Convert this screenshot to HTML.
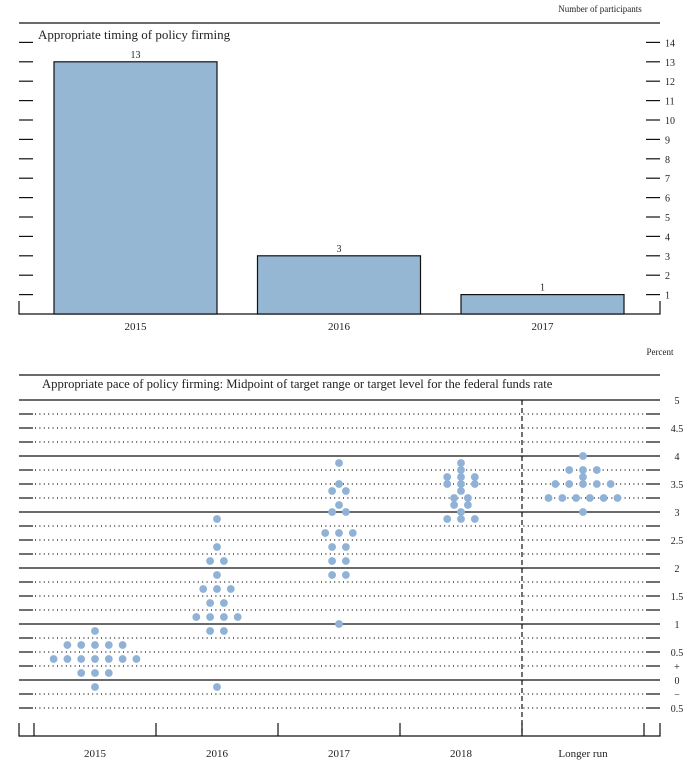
<!DOCTYPE html>
<html><head><meta charset="utf-8">
<style>
body{margin:0;background:#fff;}
svg{display:block;font-family:"Liberation Serif",serif;}
</style></head>
<body>
<svg id="c" width="700" height="765" viewBox="0 0 700 765" xmlns="http://www.w3.org/2000/svg"></svg>
<script>
// ---- Top chart data ----
const barCategories = ["2015", "2016", "2017"];
const barValues = [13, 3, 1];
const barTicks = [1,2,3,4,5,6,7,8,9,10,11,12,13,14];
// ---- Dot plot data ----
const dotCategories = ["2015", "2016", "2017", "2018", "Longer run"];
const dots2015 = [0.875,0.625,0.625,0.625,0.625,0.625,0.375,0.375,0.375,0.375,0.375,0.375,0.375,0.125,0.125,0.125,-0.125];
const dots2016 = [2.875,2.375,2.125,2.125,1.875,1.625,1.625,1.625,1.375,1.375,1.125,1.125,1.125,1.125,0.875,0.875,-0.125];
const dots2017 = [3.875,3.5,3.375,3.375,3.125,3.0,3.0,2.625,2.625,2.625,2.375,2.375,2.125,2.125,1.875,1.875,1.0];
const dots2018 = [3.875,3.75,3.625,3.625,3.625,3.5,3.5,3.5,3.375,3.25,3.25,3.125,3.125,3.0,2.875,2.875,2.875];
const dotsLong = [4.0,3.75,3.75,3.75,3.625,3.5,3.5,3.5,3.5,3.5,3.25,3.25,3.25,3.25,3.25,3.25,3.0];
const dotSeries = [dots2015, dots2016, dots2017, dots2018, dotsLong];
const rateTickValues = [5,4.5,4,3.5,3,2.5,2,1.5,1,0.5,0.25,0,-0.25,-0.5];
const rateTickLabels = ["5","4.5","4","3.5","3","2.5","2","1.5","1","0.5","+","0","\u2212","0.5"];

const svgRoot = document.getElementById('c');
const NS = "http://www.w3.org/2000/svg";
function el(tag, attrs, parent){const e=document.createElementNS(NS,tag);for(const k in attrs)e.setAttribute(k,attrs[k]);(parent||svgRoot).appendChild(e);return e;}
function txt(x,y,s,size,anchor,parent){const t=el('text',{x:x,y:y,'font-size':size,'text-anchor':anchor||'start',fill:'#222'},parent);t.textContent=s;return t;}

// ===== Top chart =====
const topG = el('g',{});


const yB = v => 314 - v*19.4;
const L=19, R=660;
el('line',{x1:L,y1:23,x2:R,y2:23,stroke:'#111','stroke-width':1.2},topG);
el('path',{d:`M${L} 301V314H${R}V301`,fill:'none',stroke:'#111','stroke-width':1.2},topG);
const t1=txt(600,12,"Number of participants",9,'middle',topG);


const tt=txt(38,39,"Appropriate timing of policy firming",13,'start',topG);


barTicks.forEach(v=>{
  const y=yB(v);
  el('line',{x1:L,y1:y,x2:L+14,y2:y,stroke:'#111','stroke-width':1.2},topG);
  el('line',{x1:R-14,y1:y,x2:R,y2:y,stroke:'#111','stroke-width':1.2},topG);
  const l=txt(665,y+4,String(v),10,'start',topG);
  
  
});
const barW=163, slot=203.5, x0=54;
barCategories.forEach((c,i)=>{
  const x=x0+i*slot, y=yB(barValues[i]);
  const r=el('rect',{x:x,y:y,width:barW,height:314-y,fill:'#96b7d4',stroke:'#111','stroke-width':1.2},topG);
  
  
  const v=txt(x+barW/2,y-4,String(barValues[i]),10,'middle',topG);
  
  
  const cl=txt(x+barW/2,330,c,11,'middle',topG);
  
  
});

// ===== Dot plot =====
const botG = el('g',{});


const yD = v => 680 - v*56;
const p=txt(660,355,"Percent",9,'middle',botG);


el('line',{x1:L,y1:375,x2:R,y2:375,stroke:'#111','stroke-width':1.2},botG);
const bt=txt(42,388,"Appropriate pace of policy firming: Midpoint of target range or target level for the federal funds rate",12.7,'start',botG);


for(let k=20;k>=-2;k--){
  const v=k*0.25, y=yD(v);
  if(k%4===0){
    el('line',{x1:L,y1:y,x2:R,y2:y,stroke:'#111','stroke-width':1.2},botG);
  } else {
    el('line',{x1:L,y1:y,x2:L+14,y2:y,stroke:'#111','stroke-width':1.2},botG);
    el('line',{x1:R-14,y1:y,x2:R,y2:y,stroke:'#111','stroke-width':1.2},botG);
    el('line',{x1:L+16,y1:y,x2:R-16,y2:y,stroke:'#111','stroke-width':1.2,'stroke-dasharray':'1 3.4'},botG);
  }
}
rateTickValues.forEach((v,i)=>{
  const l=txt(677,yD(v)+4,rateTickLabels[i],10,'middle',botG);
  
  
});
el('path',{d:`M${L} 723V736H${R}V723`,fill:'none',stroke:'#111','stroke-width':1.2},botG);
const colW=122, c0=34;
for(let i=0;i<=5;i++){
  el('line',{x1:c0+i*colW,y1:723,x2:c0+i*colW,y2:736,stroke:'#111','stroke-width':1.2},botG);
}
el('line',{x1:c0+4*colW,y1:400,x2:c0+4*colW,y2:736,stroke:'#111','stroke-width':1.2,'stroke-dasharray':'5 3'},botG);
dotCategories.forEach((c,i)=>{
  const cx=c0+colW*(i+0.5);
  const l=txt(cx,757,c,11,'middle',botG);
  
  
  const counts={};
  dotSeries[i].forEach(v=>{counts[v]=(counts[v]||0)+1;});
  Object.keys(counts).forEach(k=>{
    const n=counts[k];
    for(let j=0;j<n;j++){
      const d=el('circle',{cx:cx+(j-(n-1)/2)*13.8,cy:yD(parseFloat(k)),r:3.9,fill:'#8fb2d6'},botG);
      
      
    }
  });
});
</script>
</body></html>
